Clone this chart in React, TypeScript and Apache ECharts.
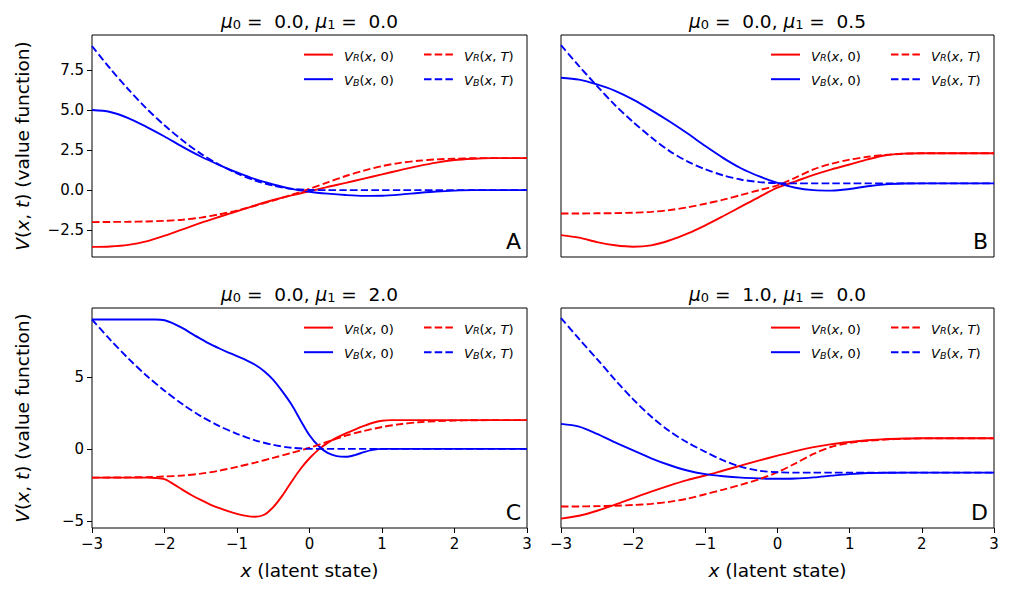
import React, { useEffect, useRef } from 'react';
import * as echarts from 'echarts';

const FONT = 'DejaVu Sans';

// shared x grid (step 0.25)
const XS = [-3, -2.75, -2.5, -2.25, -2, -1.75, -1.5, -1.25, -1, -0.75, -0.5, -0.25, 0, 0.25, 0.5, 0.75, 1, 1.25, 1.5, 1.75, 2, 2.25, 2.5, 2.75, 3];
// finer x grid (step 0.125) for panel C solid curves
const XS_FINE = [-3, -2.875, -2.75, -2.625, -2.5, -2.375, -2.25, -2.125, -2, -1.875, -1.75, -1.625, -1.5, -1.375, -1.25, -1.125, -1, -0.875, -0.75, -0.625, -0.5, -0.375, -0.25, -0.125, 0, 0.125, 0.25, 0.375, 0.5, 0.625, 0.75, 0.875, 1, 1.125, 1.25, 1.375, 1.5, 1.625, 1.75, 1.875, 2, 2.125, 2.25, 2.375, 2.5, 2.625, 2.75, 2.875, 3];

// Panel A: mu0 = 0.0, mu1 = 0.0
const A_VR0 = [-3.55, -3.52, -3.42, -3.2, -2.85, -2.45, -2.05, -1.68, -1.32, -0.95, -0.62, -0.33, -0.08, 0.2, 0.45, 0.72, 0.98, 1.25, 1.5, 1.72, 1.88, 1.96, 2.0, 2.0, 2.0];
const A_VRT = [-2.0, -1.99, -1.98, -1.96, -1.92, -1.85, -1.72, -1.52, -1.28, -0.98, -0.65, -0.3, 0.08, 0.48, 0.88, 1.22, 1.5, 1.7, 1.83, 1.92, 1.96, 1.99, 2.0, 2.0, 2.0];
const A_VB0 = [5.0, 4.88, 4.5, 3.95, 3.35, 2.7, 2.1, 1.58, 1.1, 0.68, 0.35, 0.08, -0.1, -0.22, -0.31, -0.36, -0.35, -0.28, -0.18, -0.09, -0.03, 0, 0, 0, 0];
const A_VBT = [9.0, 7.6, 6.3, 5.1, 4.05, 3.1, 2.28, 1.6, 1.05, 0.6, 0.28, 0.08, 0.01, 0, 0, 0, 0, 0, 0, 0, 0, 0, 0, 0, 0];

// Panel B: mu0 = 0.0, mu1 = 0.5
const B_VR0 = [-2.81, -2.97, -3.25, -3.45, -3.54, -3.45, -3.15, -2.72, -2.2, -1.62, -1.02, -0.42, 0.15, 0.55, 0.95, 1.3, 1.6, 1.92, 2.18, 2.28, 2.3, 2.3, 2.3, 2.3, 2.3];
const B_VRT = [-1.46, -1.46, -1.45, -1.44, -1.41, -1.36, -1.25, -1.08, -0.85, -0.6, -0.3, 0.0, 0.3, 0.78, 1.3, 1.65, 1.9, 2.08, 2.2, 2.27, 2.3, 2.3, 2.3, 2.3, 2.3];
const B_VB0 = [7.02, 6.9, 6.6, 6.2, 5.65, 5.0, 4.3, 3.55, 2.75, 2.0, 1.35, 0.85, 0.45, 0.15, 0.0, -0.03, 0.07, 0.24, 0.36, 0.41, 0.42, 0.42, 0.42, 0.42, 0.42];
const B_VBT = [9.05, 7.75, 6.5, 5.3, 4.25, 3.3, 2.45, 1.8, 1.3, 0.92, 0.65, 0.5, 0.43, 0.42, 0.42, 0.42, 0.42, 0.42, 0.42, 0.42, 0.42, 0.42, 0.42, 0.42, 0.42];

// Panel C: mu0 = 0.0, mu1 = 2.0 (solid curves on fine grid)
const C_VR0 = [-2.0, -2.0, -2.0, -2.0, -2.0, -2.0, -2.0, -2.02, -2.1, -2.45, -2.85, -3.22, -3.55, -3.85, -4.1, -4.33, -4.52, -4.66, -4.72, -4.58, -4.05, -3.25, -2.3, -1.4, -0.65, -0.05, 0.42, 0.78, 1.08, 1.35, 1.6, 1.82, 1.96, 2.0, 2.0, 2.0, 2.0, 2.0, 2.0, 2.0, 2.0, 2.0, 2.0, 2.0, 2.0, 2.0, 2.0, 2.0, 2.0];
const C_VB0 = [9.0, 9.0, 9.0, 9.0, 9.0, 9.0, 9.0, 9.0, 8.95, 8.72, 8.4, 8.02, 7.65, 7.3, 7.0, 6.72, 6.45, 6.18, 5.85, 5.4, 4.8, 4.0, 3.1, 2.0, 0.95, 0.2, -0.28, -0.5, -0.55, -0.43, -0.22, -0.07, 0, 0, 0, 0, 0, 0, 0, 0, 0, 0, 0, 0, 0, 0, 0, 0, 0];
const C_VRT = [-2.0, -1.99, -1.98, -1.96, -1.92, -1.85, -1.72, -1.52, -1.25, -0.95, -0.62, -0.28, 0.08, 0.5, 0.92, 1.25, 1.52, 1.72, 1.85, 1.93, 1.97, 1.99, 2.0, 2.0, 2.0];
const C_VBT = [9.0, 7.6, 6.3, 5.1, 4.05, 3.1, 2.28, 1.6, 1.05, 0.6, 0.28, 0.08, 0.01, 0, 0, 0, 0, 0, 0, 0, 0, 0, 0, 0, 0];

// Panel D: mu0 = 1.0, mu1 = 0.0
const D_VR0 = [-4.85, -4.65, -4.3, -3.88, -3.42, -2.97, -2.55, -2.17, -1.85, -1.5, -1.15, -0.8, -0.47, -0.15, 0.12, 0.33, 0.48, 0.6, 0.68, 0.72, 0.74, 0.74, 0.74, 0.74, 0.74];
const D_VRT = [-4.0, -4.0, -3.98, -3.95, -3.9, -3.82, -3.68, -3.46, -3.15, -2.83, -2.48, -2.1, -1.62, -1.0, -0.35, 0.15, 0.42, 0.57, 0.65, 0.7, 0.73, 0.74, 0.74, 0.74, 0.74];
const D_VB0 = [1.74, 1.55, 1.05, 0.45, -0.1, -0.65, -1.12, -1.5, -1.75, -1.9, -2.0, -2.05, -2.08, -2.06, -1.98, -1.86, -1.75, -1.68, -1.66, -1.65, -1.65, -1.65, -1.65, -1.65, -1.65];
const D_VBT = [9.1, 7.65, 6.25, 4.8, 3.45, 2.25, 1.25, 0.45, -0.2, -0.8, -1.25, -1.52, -1.62, -1.65, -1.65, -1.65, -1.65, -1.65, -1.65, -1.65, -1.65, -1.65, -1.65, -1.65, -1.65];

const TITLES = [
  ['0.0', '0.0'],
  ['0.0', '0.5'],
  ['0.0', '2.0'],
  ['1.0', '0.0'],
];
const LETTERS = ['A', 'B', 'C', 'D'];
const TOP_TICKS = [-2.5, 0, 2.5, 5, 7.5];
const BOTTOM_TICKS = [-5, 0, 5];

const LEGEND_LABELS: Record<string, string> = {
  VR0: '{i|V}{s|R}{r|(}{i|x}{r|, 0)}',
  VRT: '{i|V}{s|R}{r|(}{i|x}{r|, }{i|T}{r|)}',
  VB0: '{i|V}{s|B}{r|(}{i|x}{r|, 0)}',
  VBT: '{i|V}{s|B}{r|(}{i|x}{r|, }{i|T}{r|)}',
};

const RED = '#ff0000';
const BLUE = '#0000ff';
const DASH = [7.5, 3.2];

const GRIDS = [
  { left: 92, top: 35, width: 435, height: 222 },
  { left: 561, top: 35, width: 433, height: 222 },
  { left: 92, top: 308, width: 435, height: 220 },
  { left: 561, top: 308, width: 433, height: 220 },
];

const minus = (s: string) => s.replace('-', '\u2212');

export default function App() {
  const ref = useRef<HTMLDivElement>(null);
  useEffect(() => {
    if (!ref.current) return;
    const chart = echarts.init(ref.current, null, { renderer: 'svg' });

    const legendRich = {
      i: { fontFamily: FONT, fontStyle: 'italic', fontSize: 13, color: '#000', verticalAlign: 'bottom', lineHeight: 16 },
      r: { fontFamily: FONT, fontSize: 13, color: '#000', verticalAlign: 'bottom', lineHeight: 16 },
      s: { fontFamily: FONT, fontStyle: 'italic', fontSize: 9.5, color: '#000', verticalAlign: 'bottom', lineHeight: 11 },
    };
    const nameRich = {
      i: { fontFamily: FONT, fontStyle: 'italic', fontSize: 18.5, color: '#000' },
      r: { fontFamily: FONT, fontSize: 18.5, color: '#000' },
    };
    const titleRich = {
      m: { fontFamily: FONT, fontStyle: 'italic', fontSize: 18.5, color: '#000', verticalAlign: 'bottom', lineHeight: 22 },
      s: { fontFamily: FONT, fontSize: 13, color: '#000', verticalAlign: 'bottom', lineHeight: 15 },
      r: { fontFamily: FONT, fontSize: 18.5, color: '#000', verticalAlign: 'bottom', lineHeight: 22 },
    };

    const xAxis = GRIDS.map((_, k) => {
      const bottom = k >= 2;
      return {
        type: 'value',
        gridIndex: k,
        min: -3,
        max: 3,
        interval: 1,
        splitLine: { show: false },
        axisLine: { show: false, onZero: false },
        axisTick: { show: bottom, length: 5, lineStyle: { color: '#000', width: 1 } },
        axisLabel: {
          show: bottom,
          margin: 8,
          fontFamily: FONT,
          fontSize: 15,
          color: '#000',
          formatter: (v: number) => minus(String(v)),
        },
        name: bottom ? '{i|x}{r| (latent state)}' : '',
        nameLocation: 'middle',
        nameGap: 33,
        nameTextStyle: { rich: nameRich },
      };
    });

    const yAxis = GRIDS.map((_, k) => {
      const top = k < 2;
      const left = k % 2 === 0;
      const ticks = top ? TOP_TICKS : BOTTOM_TICKS;
      return {
        type: 'value',
        gridIndex: k,
        min: top ? -4.18 : -5.5,
        max: top ? 9.69 : 9.8,
        splitLine: { show: false },
        axisLine: { show: false, onZero: false },
        axisTick: { show: left, length: 5, customValues: ticks, lineStyle: { color: '#000', width: 1 } },
        axisLabel: {
          show: left,
          margin: 8,
          customValues: ticks,
          fontFamily: FONT,
          fontSize: 15,
          color: '#000',
          formatter: (v: number) => minus(top ? v.toFixed(1) : v.toFixed(0)),
        },
        name: left ? '{i|V}{r|(}{i|x}{r|, }{i|t}{r|) (value function)}' : '',
        nameLocation: 'middle',
        nameRotate: 90,
        nameGap: 60,
        nameTextStyle: { rich: nameRich },
      };
    });

    const panels = [
      { vr0: [XS, A_VR0], vrt: [XS, A_VRT], vb0: [XS, A_VB0], vbt: [XS, A_VBT] },
      { vr0: [XS, B_VR0], vrt: [XS, B_VRT], vb0: [XS, B_VB0], vbt: [XS, B_VBT] },
      { vr0: [XS_FINE, C_VR0], vrt: [XS, C_VRT], vb0: [XS_FINE, C_VB0], vbt: [XS, C_VBT] },
      { vr0: [XS, D_VR0], vrt: [XS, D_VRT], vb0: [XS, D_VB0], vbt: [XS, D_VBT] },
    ];

    const series: any[] = [];
    panels.forEach((p: any, k) => {
      const mk = (name: string, pair: any, color: string, dashed: boolean) => ({
        type: 'line',
        name,
        xAxisIndex: k,
        yAxisIndex: k,
        data: pair[0].map((x: number, i: number) => [x, pair[1][i]]),
        showSymbol: false,
        symbol: 'none',
        smooth: 0.3,
        lineStyle: { color, width: 1.9, type: dashed ? DASH : 'solid' },
        itemStyle: { color },
        z: 3,
      });
      series.push(mk('VR0', p.vr0, RED, false));
      series.push(mk('VB0', p.vb0, BLUE, false));
      series.push(mk('VRT', p.vrt, RED, true));
      series.push(mk('VBT', p.vbt, BLUE, true));
    });

    const legends: any[] = [];
    GRIDS.forEach((g) => {
      const topY = g.top + 14;
      [['VR0', 'VB0'], ['VRT', 'VBT']].forEach((names, c) => {
        legends.push({
          data: names,
          orient: 'vertical',
          left: g.left + g.width - 224 + c * 120,
          top: topY,
          padding: 0,
          itemWidth: 29,
          itemHeight: 14,
          itemGap: 11,
          selectedMode: false,
          formatter: (n: string) => LEGEND_LABELS[n],
          itemStyle: { opacity: 0, borderWidth: 0 },
          textStyle: { padding: [0, 0, 0, 6], rich: legendRich },
        });
      });
    });

    const graphics: any[] = [];
    GRIDS.forEach((g, k) => {
      graphics.push({
        type: 'text',
        x: g.left + g.width / 2,
        y: g.top - 4,
        style: {
          text: `{m|\u03bc}{s|0}{r| =  ${TITLES[k][0]}, }{m|\u03bc}{s|1}{r| =  ${TITLES[k][1]}}`,
          rich: titleRich,
          align: 'center',
          verticalAlign: 'bottom',
          textAlign: 'center',
          textVerticalAlign: 'bottom',
        },
      });
      graphics.push({
        type: 'text',
        x: g.left + g.width - 6,
        y: g.top + g.height - 16,
        style: {
          text: LETTERS[k],
          font: `22px "${FONT}"`,
          fill: '#000',
          align: 'right',
          verticalAlign: 'middle',
          textAlign: 'right',
          textVerticalAlign: 'middle',
        },
      });
    });

    chart.setOption({
      animation: false,
      backgroundColor: '#fff',
      grid: GRIDS.map((g) => ({ ...g, show: true, borderColor: '#000', borderWidth: 1, backgroundColor: 'transparent', containLabel: false })),
      xAxis,
      yAxis,
      legend: legends,
      series,
      graphic: graphics,
    });
    return () => chart.dispose();
  }, []);
  return <div ref={ref} style={{ position: 'fixed', left: 0, top: 0, width: 1010, height: 595 }} />;
}
